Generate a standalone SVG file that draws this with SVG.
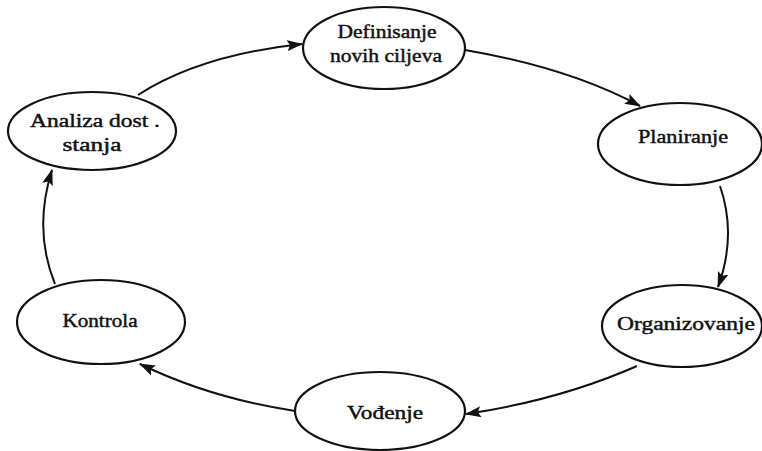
<svg xmlns="http://www.w3.org/2000/svg" width="762" height="451" viewBox="0 0 762 451">
<style>
.node ellipse{fill:#fff;stroke:#111;stroke-width:2.2}
.node text{font-family:"Liberation Serif","Times New Roman",serif;font-size:19px;fill:#111;stroke:#111;stroke-width:0.45;text-anchor:middle}
.conn path{fill:none;stroke:#111;stroke-width:2;marker-end:url(#arr)}
</style>
<defs>
<marker id="arr" viewBox="0 0 16 11" refX="15" refY="5.5" markerWidth="16" markerHeight="11" markerUnits="userSpaceOnUse" orient="auto">
<path d="M0,0 L16,5.5 L0,11 L3,5.5 Z" fill="#111"/>
</marker>
</defs>
<rect width="762" height="451" fill="#fff"/>
<g id="connectors" class="conn">
<path d="M138,95 Q200,55 302,44"/>
<path d="M465,50 Q570,68 640,106"/>
<path d="M720,186 Q737,235 718,287"/>
<path d="M637,366 Q560,400 466,414"/>
<path d="M295,411 Q210,398 140,364"/>
<path d="M55,284 Q33,230 52,170"/>
</g>
<g id="definisanje" class="node">
<ellipse cx="384" cy="48" rx="81" ry="41"/>
<text x="387" y="38" textLength="99" lengthAdjust="spacingAndGlyphs">Definisanje</text>
<text x="386" y="62" textLength="112" lengthAdjust="spacingAndGlyphs">novih ciljeva</text>
</g>
<g id="planiranje" class="node">
<ellipse cx="680" cy="144" rx="82" ry="41"/>
<text x="683" y="143" textLength="90" lengthAdjust="spacingAndGlyphs">Planiranje</text>
</g>
<g id="organizovanje" class="node">
<ellipse cx="682" cy="326" rx="80" ry="41"/>
<text x="686" y="330" textLength="138" lengthAdjust="spacingAndGlyphs">Organizovanje</text>
</g>
<g id="vodjenje" class="node">
<ellipse cx="380" cy="411" rx="85" ry="39"/>
<text x="385" y="419" textLength="76" lengthAdjust="spacingAndGlyphs">Vođenje</text>
</g>
<g id="kontrola" class="node">
<ellipse cx="101" cy="322" rx="84" ry="42"/>
<text x="100" y="327" textLength="75" lengthAdjust="spacingAndGlyphs">Kontrola</text>
</g>
<g id="analiza" class="node">
<ellipse cx="92" cy="131" rx="84" ry="39"/>
<text x="95" y="127" textLength="130" lengthAdjust="spacingAndGlyphs">Analiza dost .</text>
<text x="92" y="151" textLength="59" lengthAdjust="spacingAndGlyphs">stanja</text>
</g>
</svg>
